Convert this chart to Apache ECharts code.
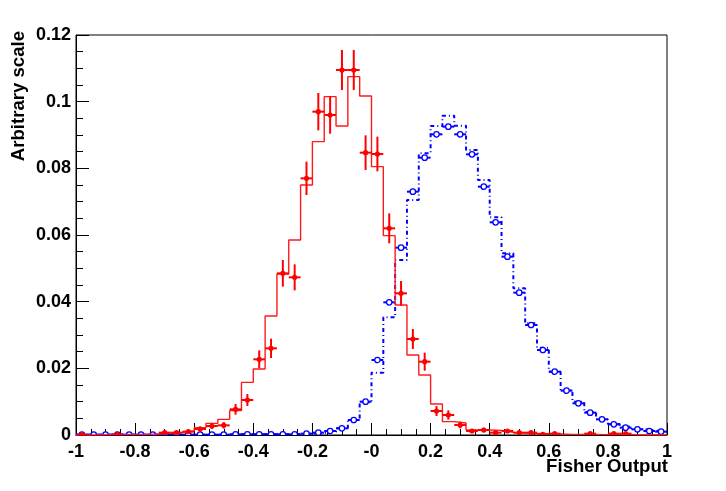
<!DOCTYPE html>
<html>
<head>
<meta charset="utf-8">
<script src="https://cdn.jsdelivr.net/npm/echarts@6/dist/echarts.min.js"></script>
<style>
  html, body { margin: 0; padding: 0; background: #fff; }
  #chart { width: 726px; height: 491px; }
</style>
</head>
<body>
<div id="chart"></div>
<script>
// Histogram binning: 50 bins from -1 to 1
const X_MIN = -1;
const BIN_WIDTH = 0.04;
const N_BINS = 50;

const xTickLabels = ['-1', '-0.8', '-0.6', '-0.4', '-0.2', '-0', '0.2', '0.4', '0.6', '0.8', '1'];
const yTickLabels = ['0', '0.02', '0.04', '0.06', '0.08', '0.1', '0.12'];

// Red (solid) histogram contents
const redHist = [
  0, 0, 0.0001, 0.0001, 0.0002, 0.0002, 0.0003, 0.0005, 0.0008, 0.0012,
  0.0022, 0.0035, 0.0047, 0.0073, 0.0158, 0.0198, 0.0357, 0.0483, 0.0585, 0.075,
  0.088, 0.1015, 0.0927, 0.1075, 0.1017, 0.0805, 0.0598, 0.039, 0.024, 0.018,
  0.0093, 0.004, 0.0036, 0.0015, 0.0015, 0.0014, 0.0008, 0.0006, 0.0005, 0.0004,
  0.0003, 0.0002, 0.0002, 0.0002, 0.0001, 0.0001, 0.0001, 0, 0, 0
];
// Red data points and their vertical errors
const redPts = [
  0.0001, null, null, 0.0002, null, null, null, 0.0007, 0.0007, 0.001,
  0.0018, 0.0027, 0.0029, 0.0077, 0.0105, 0.0227, 0.026, 0.0485, 0.0473, 0.077,
  0.097, 0.096, 0.1095, 0.1095, 0.0847, 0.0843, 0.062, 0.0425, 0.0288, 0.022,
  0.0072, 0.006, 0.003, 0.0012, 0.0015, 0.0007, 0.0012, 0.0007, 0.0007, 0.0002,
  0.0004, null, null, 0.0004, null, 0.0004, 0.0004, null, null, null
];
const redErr = [
  0.00018, null, null, 0.00025, null, null, null, 0.00048, 0.00048, 0.00057,
  0.00076, 0.00094, 0.00097, 0.0016, 0.0018, 0.0027, 0.0029, 0.004, 0.0039, 0.005,
  0.0056, 0.0056, 0.006, 0.006, 0.0052, 0.0052, 0.0045, 0.0037, 0.003, 0.0027,
  0.0015, 0.0014, 0.001, 0.0006, 0.0007, 0.00048, 0.0006, 0.00048, 0.00048, 0.00025,
  0.00036, null, null, 0.00036, null, 0.00036, 0.00036, null, null, null
];

// Blue (dash-dot) histogram contents
const blueHist = [
  0.0001, 0.0001, 0.0001, 0.0001, 0.0001, 0.0001, 0.0001, 0.0001, 0.0001, 0.0001,
  0.0001, 0.0001, 0.0001, 0.0002, 0.0002, 0.0002, 0.0002, 0.0002, 0.0003, 0.0004,
  0.0006, 0.001, 0.002, 0.0045, 0.0098, 0.0187, 0.0353, 0.0525, 0.0705, 0.0845,
  0.0927, 0.0958, 0.0928, 0.0855, 0.0765, 0.0653, 0.0545, 0.044, 0.0335, 0.0262,
  0.019, 0.0134, 0.01, 0.0069, 0.0047, 0.0033, 0.0025, 0.0018, 0.0013, 0.001
];
// Blue data points
const bluePts = [
  0.0001, 0.0001, 0.0001, 0.0001, 0.0001, 0.0001, 0.0001, 0.0001, 0.0001, 0.0001,
  0.0001, 0.0001, 0.0001, 0.0002, 0.0002, 0.0002, 0.0002, 0.0002, 0.0002, 0.0004,
  0.0007, 0.0012, 0.002, 0.0045, 0.01, 0.0225, 0.0398, 0.0562, 0.073, 0.0832,
  0.0902, 0.0925, 0.0902, 0.0842, 0.0745, 0.0638, 0.0535, 0.0427, 0.033, 0.0255,
  0.019, 0.0133, 0.0095, 0.0067, 0.0047, 0.0032, 0.0022, 0.0017, 0.0012, 0.001
];

// Build step data (left bin edges + closing edge) and point data (bin centres)
function stepData(vals) {
  const d = [];
  for (let i = 0; i < N_BINS; i++) d.push([X_MIN + i * BIN_WIDTH, vals[i]]);
  d.push([X_MIN + N_BINS * BIN_WIDTH, vals[N_BINS - 1]]);
  return d;
}
function pointData(vals, errs) {
  const d = [];
  for (let i = 0; i < N_BINS; i++) {
    if (vals[i] === null) continue;
    d.push([X_MIN + (i + 0.5) * BIN_WIDTH, vals[i], errs ? errs[i] : 0]);
  }
  return d;
}

function renderRed(params, api) {
  const x = api.value(0), y = api.value(1), e = api.value(2);
  const c = api.coord([x, y]);
  const l = api.coord([x - BIN_WIDTH / 2, y]);
  const r = api.coord([x + BIN_WIDTH / 2, y]);
  const t = api.coord([x, y + e]);
  const b = api.coord([x, Math.max(0, y - e)]);
  const col = '#ff0000';
  return {
    type: 'group',
    children: [
      { type: 'line', shape: { x1: l[0], y1: c[1], x2: r[0], y2: c[1] }, style: { stroke: col, lineWidth: 2 } },
      { type: 'line', shape: { x1: c[0], y1: t[1], x2: c[0], y2: b[1] }, style: { stroke: col, lineWidth: 2 } },
      { type: 'circle', shape: { cx: c[0], cy: c[1], r: 2.6 }, style: { fill: col } }
    ]
  };
}
function renderBlue(params, api) {
  const x = api.value(0), y = api.value(1);
  const c = api.coord([x, y]);
  const l = api.coord([x - BIN_WIDTH / 2, y]);
  const r = api.coord([x + BIN_WIDTH / 2, y]);
  const col = '#0000ff';
  return {
    type: 'group',
    children: [
      { type: 'line', shape: { x1: l[0], y1: c[1], x2: r[0], y2: c[1] }, style: { stroke: col, lineWidth: 2 } },
      { type: 'circle', shape: { cx: c[0], cy: c[1], r: 2.7 }, style: { fill: '#ffffff', stroke: col, lineWidth: 1.3 } }
    ]
  };
}

const FONT = '"Liberation Sans", Arial, Helvetica, sans-serif';
const chart = echarts.init(document.getElementById('chart'), null, { renderer: 'canvas' });

chart.setOption({
  animation: false,
  backgroundColor: '#ffffff',
  grid: {
    left: 76, right: 59, top: 35, bottom: 56,
    show: true, borderColor: '#000', borderWidth: 1, backgroundColor: 'transparent'
  },
  xAxis: {
    type: 'value', min: -1, max: 1, interval: 0.2,
    axisLine: { onZero: false, lineStyle: { color: '#000', width: 1 } },
    axisTick: { inside: true, length: 12, lineStyle: { color: '#000' } },
    minorTick: { show: true, splitNumber: 4, length: 6, lineStyle: { color: '#000' } },
    splitLine: { show: false },
    axisLabel: {
      color: '#000', fontSize: 18, fontWeight: 'bold', fontFamily: FONT, margin: 8,
      showMinLabel: true, showMaxLabel: true,
      formatter: function (v) { return xTickLabels[Math.round((v + 1) / 0.2)]; }
    }
  },
  yAxis: {
    type: 'value', min: 0, max: 0.12, interval: 0.02,
    axisLine: { show: true, onZero: false, lineStyle: { color: '#000', width: 1 } },
    axisTick: { show: true, inside: true, length: 13, lineStyle: { color: '#000' } },
    minorTick: { show: true, splitNumber: 4, length: 7, lineStyle: { color: '#000' } },
    splitLine: { show: false },
    axisLabel: {
      color: '#000', fontSize: 18, fontWeight: 'bold', fontFamily: FONT, margin: 5,
      showMinLabel: true, showMaxLabel: true,
      formatter: function (v) { return yTickLabels[Math.round(v / 0.02)]; }
    }
  },
  graphic: [
    {
      type: 'text', x: 668, y: 467,
      style: { text: 'Fisher Output', fill: '#000', font: 'bold 18.6px ' + FONT, align: 'right', verticalAlign: 'middle' }
    },
    {
      type: 'text', x: 19, y: 31, rotation: Math.PI / 2,
      style: { text: 'Arbitrary scale', fill: '#000', font: 'bold 18.6px ' + FONT, align: 'right', verticalAlign: 'middle' }
    }
  ],
  series: [
    {
      type: 'line', step: 'end', data: stepData(blueHist), symbol: 'none', z: 2,
      lineStyle: { color: '#0000ff', width: 2, type: [4, 3, 1, 3] }
    },
    {
      type: 'custom', data: pointData(bluePts, null), renderItem: renderBlue, z: 3, clip: true,
      encode: { x: 0, y: 1 }
    },
    {
      type: 'line', step: 'end', data: stepData(redHist), symbol: 'none', z: 4,
      lineStyle: { color: '#ff1a1a', width: 1.4 }
    },
    {
      type: 'custom', data: pointData(redPts, redErr), renderItem: renderRed, z: 5, clip: true,
      encode: { x: 0, y: 1 }
    }
  ]
});
</script>
</body>
</html>
